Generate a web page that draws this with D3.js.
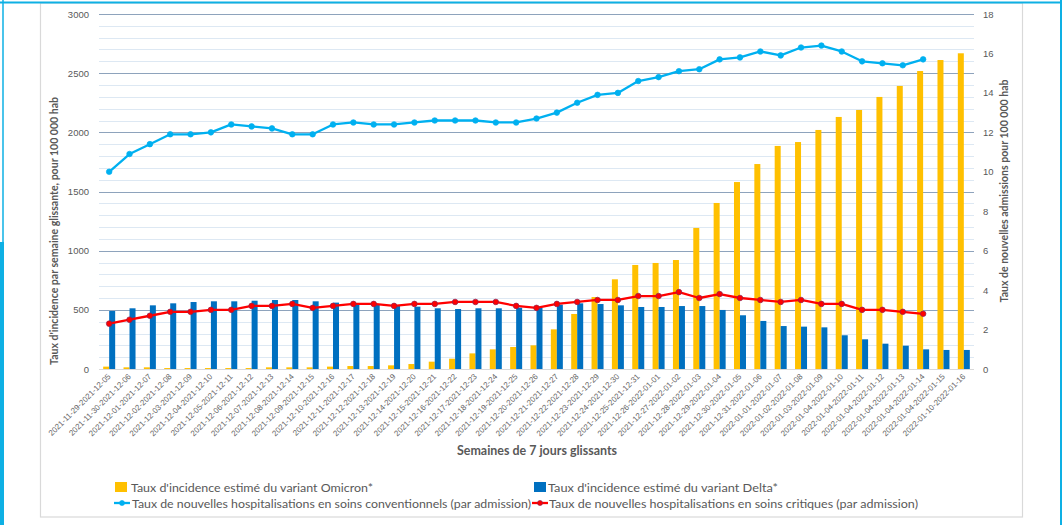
<!DOCTYPE html>
<html><head><meta charset="utf-8">
<script src="https://cdn.jsdelivr.net/npm/d3@7"></script>
<style>body{margin:0;background:#fff}svg{display:block}text{font-family:Lato,"Liberation Sans",sans-serif}</style>
</head><body><svg id="c" width="1062" height="525"></svg>
<script>
const weeks = ["2021-11-29-2021-12-05","2021-11-30-2021-12-06","2021-12-01-2021-12-07","2021-12-02-2021-12-08","2021-12-03-2021-12-09","2021-12-04-2021-12-10","2021-12-05-2021-12-11","2021-12-06-2021-12-12","2021-12-07-2021-12-13","2021-12-08-2021-12-14","2021-12-09-2021-12-15","2021-12-10-2021-12-16","2021-12-11-2021-12-17","2021-12-12-2021-12-18","2021-12-13-2021-12-19","2021-12-14-2021-12-20","2021-12-15-2021-12-21","2021-12-16-2021-12-22","2021-12-17-2021-12-23","2021-12-18-2021-12-24","2021-12-19-2021-12-25","2021-12-20-2021-12-26","2021-12-21-2021-12-27","2021-12-22-2021-12-28","2021-12-23-2021-12-29","2021-12-24-2021-12-30","2021-12-25-2021-12-31","2021-12-26-2022-01-01","2021-12-27-2022-01-02","2021-12-28-2022-01-03","2021-12-29-2022-01-04","2021-12-30-2022-01-05","2021-12-31-2022-01-06","2022-01-01-2022-01-07","2022-01-02-2022-01-08","2022-01-03-2022-01-09","2022-01-04-2022-01-10","2022-01-04-2022-01-11","2022-01-04-2022-01-12","2022-01-04-2022-01-13","2022-01-04-2022-01-14","2022-01-04-2022-01-15","2022-01-10-2022-01-16"];
const omicron = [20,14,14,8,8,8,8,8,14,14,14,20,25,25,31,42,62,87,132,166,186,200,335,465,608,758,879,896,921,1192,1403,1580,1732,1885,1918,2020,2130,2189,2299,2392,2518,2611,2668];
const delta = [490,513,538,555,566,572,572,577,583,583,572,561,552,546,538,527,513,507,513,513,518,518,544,555,549,538,524,524,532,532,499,454,406,363,358,352,285,251,214,197,166,161,161];
const hospConv = [10.0,10.9,11.4,11.9,11.9,12.0,12.4,12.3,12.2,11.9,11.9,12.4,12.5,12.4,12.4,12.5,12.6,12.6,12.6,12.5,12.5,12.7,13.0,13.5,13.9,14.0,14.6,14.8,15.1,15.2,15.7,15.8,16.1,15.9,16.3,16.4,16.1,15.6,15.5,15.4,15.7];
const hospCrit = [2.3,2.5,2.7,2.9,2.9,3.0,3.0,3.2,3.2,3.3,3.1,3.2,3.3,3.3,3.2,3.3,3.3,3.4,3.4,3.4,3.2,3.1,3.3,3.4,3.5,3.5,3.7,3.7,3.9,3.6,3.8,3.6,3.5,3.4,3.5,3.3,3.3,3.0,3.0,2.9,2.8];
const leftTicks = [0,500,1000,1500,2000,2500,3000];
const rightTicks = [0,2,4,6,8,10,12,14,16,18];
const seriesNames = ["Taux d'incidence estimé du variant Omicron*","Taux d'incidence estimé du variant Delta*","Taux de nouvelles hospitalisations en soins conventionnels (par admission)","Taux de nouvelles hospitalisations en soins critiques (par admission)"];

const C = {om:"#FFC000", de:"#0070C0", conv:"#00B0F0", crit:"#FF0000", txt:"#595959"};
const svg = d3.select("#c");
const L=99, R=974, T=14, B=369;

// frame
svg.append("rect").attr("x",40.5).attr("y",3).attr("width",982).attr("height",514).attr("fill","none").attr("stroke","#d9d9d9").attr("stroke-width",1.2);
svg.append("line").attr("x1",0).attr("x2",1062).attr("y1",2.5).attr("y2",2.5).attr("stroke","#0EB0E4").attr("stroke-width",2);
svg.append("line").attr("x1",1061).attr("x2",1061).attr("y1",0).attr("y2",525).attr("stroke","#0EB0E4").attr("stroke-width",2);
svg.append("line").attr("x1",3).attr("x2",3).attr("y1",0).attr("y2",242).attr("stroke","#0EB0E4").attr("stroke-width",1.5);
svg.append("rect").attr("x",0).attr("y",242).attr("width",4).attr("height",283).attr("fill","#0EB0E4");

const x = d3.scaleBand().domain(weeks).range([L,R]).paddingInner(0).paddingOuter(0);
const xs = d3.scaleBand().domain(["om","de"]).range([0,12]);
const off = (x.bandwidth()-12)/2;
const yL = d3.scaleLinear().domain([0,3000]).range([B,T]);
const yR = d3.scaleLinear().domain([0,18]).range([B,T]);

// grid
const g = svg.append("g");
d3.range(100,3001,100).forEach(v=>{
  const major = v%500===0;
  g.append("line").attr("x1",L).attr("x2",R).attr("y1",Math.round(yL(v))+0.5).attr("y2",Math.round(yL(v))+0.5)
   .attr("stroke",major?"#8EA3BC":"#DDE8F3").attr("stroke-width",1.2);
});
g.append("line").attr("x1",L).attr("x2",R).attr("y1",B+0.5).attr("y2",B+0.5).attr("stroke","#d9d9d9").attr("stroke-width",1.2);

// bars
const bars = svg.append("g");
bars.selectAll(".om").data(weeks).join("rect").attr("class","om").attr("x",d=>x(d)+off+xs("om")).attr("width",xs.bandwidth())
  .attr("y",(d,i)=>yL(omicron[i])).attr("height",(d,i)=>B-yL(omicron[i])).attr("fill",C.om);
bars.selectAll(".de").data(weeks).join("rect").attr("class","de").attr("x",d=>x(d)+off+xs("de")).attr("width",xs.bandwidth())
  .attr("y",(d,i)=>yL(delta[i])).attr("height",(d,i)=>B-yL(delta[i])).attr("fill",C.de);

// lines
function drawLine(vals,color,stroke){
  const pts = vals.map((v,i)=>[x(weeks[i])+x.bandwidth()/2, yR(v)]);
  svg.append("path").attr("d",d3.line()(pts)).attr("fill","none").attr("stroke",color).attr("stroke-width",2.3).attr("stroke-linejoin","round");
  svg.append("g").selectAll("circle").data(pts).join("circle").attr("cx",d=>d[0]).attr("cy",d=>d[1]).attr("r",2.8)
    .attr("fill",color).attr("stroke",stroke).attr("stroke-width",0.7);
}
drawLine(hospConv,C.conv,C.conv);
drawLine(hospCrit,C.crit,"#8B2252");

// axes
const axL = svg.append("g").attr("transform",`translate(${L},0)`).call(d3.axisLeft(yL).tickValues(leftTicks).tickFormat(d3.format("d")).tickSize(0).tickPadding(10));
const axR = svg.append("g").attr("transform",`translate(${R},0)`).call(d3.axisRight(yR).tickValues(rightTicks).tickFormat(d3.format("d")).tickSize(0).tickPadding(9));
[axL,axR].forEach(a=>{a.select(".domain").remove(); a.selectAll("text").attr("fill",C.txt).style("font-family","'Liberation Sans',Arial,sans-serif").style("font-size","9.5px");});

const axX = svg.append("g").attr("transform",`translate(0,${B})`).call(d3.axisBottom(x).tickSize(0).tickPadding(0));
axX.select(".domain").remove();
axX.selectAll("text").attr("fill","#666").style("font-family","'Liberation Sans',Arial,sans-serif").style("font-size","8px")
  .attr("text-anchor","end").attr("dy",0).attr("y",0)
  .attr("transform","translate(2,8) rotate(-45)");

// titles
svg.append("text").attr("transform","translate(54,231) rotate(-90)").attr("text-anchor","middle").attr("dominant-baseline","central")
  .attr("fill",C.txt).style("font-weight","bold").style("font-size","10.5px").attr("textLength",268).attr("lengthAdjust","spacingAndGlyphs")
  .text("Taux d'incidence par semaine glissante, pour 100 000 hab");
svg.append("text").attr("transform","translate(1004,191) rotate(-90)").attr("text-anchor","middle").attr("dominant-baseline","central")
  .attr("fill",C.txt).style("font-weight","bold").style("font-size","10.5px").attr("textLength",223).attr("lengthAdjust","spacingAndGlyphs")
  .text("Taux de nouvelles admissions pour 100 000 hab");
svg.append("text").attr("x",537).attr("y",450).attr("text-anchor","middle").attr("dominant-baseline","central")
  .attr("fill",C.txt).style("font-weight","bold").style("font-size","13px").attr("textLength",160).attr("lengthAdjust","spacingAndGlyphs")
  .text("Semaines de 7 jours glissants");

// legend
const leg = svg.append("g").style("font-size","12px").attr("fill",C.txt);
const items = [
  {type:"rect",c:C.om,x:115,y:487,tx:131,w:242},
  {type:"rect",c:C.de,x:534,y:487,tx:548,w:230},
  {type:"line",c:C.conv,x:114,y:503,tx:132,w:399},
  {type:"line",c:C.crit,x:532,y:503,tx:549,w:369}
];
items.forEach((it,i)=>{
  if(it.type==="rect"){
    leg.append("rect").attr("x",it.x).attr("y",it.y-5).attr("width",12).attr("height",10).attr("fill",it.c);
  } else {
    leg.append("line").attr("x1",it.x).attr("x2",it.x+16).attr("y1",it.y).attr("y2",it.y).attr("stroke",it.c).attr("stroke-width",2.3);
    leg.append("circle").attr("cx",it.x+8).attr("cy",it.y).attr("r",2.5).attr("fill",it.c).attr("stroke",i===3?"#8B2252":it.c).attr("stroke-width",0.7);
  }
  leg.append("text").attr("x",it.tx).attr("y",it.y).attr("dominant-baseline","central").attr("fill",C.txt)
    .attr("textLength",it.w).attr("lengthAdjust","spacingAndGlyphs").text(seriesNames[i]);
});
</script></body></html>
